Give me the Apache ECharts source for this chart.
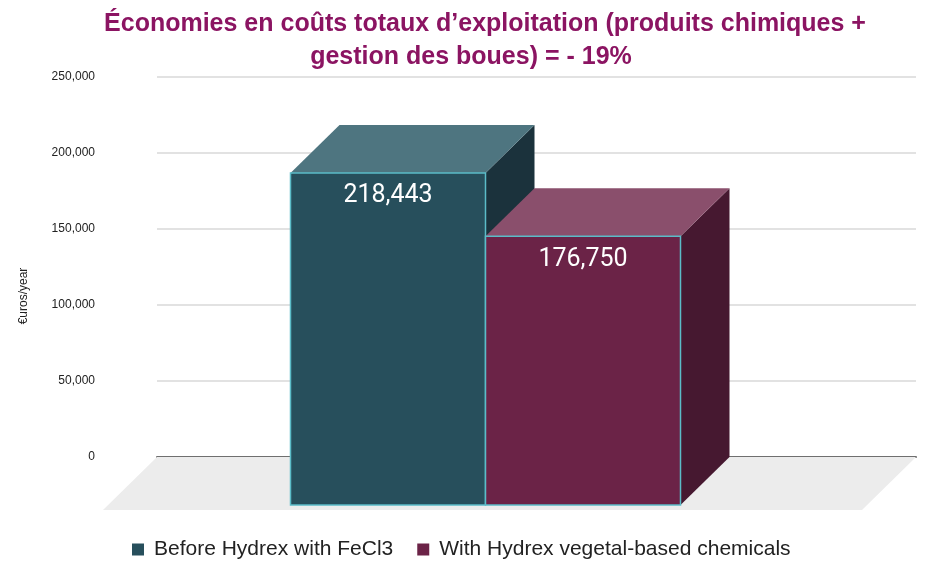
<!DOCTYPE html>
<html>
<head>
<meta charset="utf-8">
<script src="https://cdn.jsdelivr.net/npm/echarts@6/dist/echarts.min.js"></script>
<style>
  html, body { margin: 0; padding: 0; background: #fff; }
  #chart { width: 940px; height: 579px; }
</style>
</head>
<body>
<div id="chart"></div>
<script>
const categories = ['Total']
const seriesNames = ['Before Hydrex with FeCl3', 'With Hydrex vegetal-based chemicals']
const seriesValues = [[218443], [176750]]
const yTicks = [0, 50000, 100000, 150000, 200000, 250000]
const titleLines = [
  'Économies en coûts totaux d’exploitation (produits chimiques +',
  'gestion des boues) = - 19%',
]

// faces of each box: front, top, side
const faceColors = [
  { front: '#274f5c', top: '#4e7580', side: '#1b323c' },
  { front: '#6b2347', top: '#8a4f6c', side: '#461830' },
]
const DEPTH_X = 49
const DEPTH_Y = 48
const BAR_W = 195

const fmt = (v) => v.toLocaleString('en-US')

const renderBox = (idx) => (params, api) => {
  const base = api.coord([api.value(0), 0])
  const top = api.coord([api.value(0), api.value(1)])
  const bl = base[0] + (idx - 1) * BAR_W - 2
  const br = bl + BAR_W
  const bt = top[1]
  const bb = base[1]
  const fl = bl - DEPTH_X
  const fr = br - DEPTH_X
  const ft = bt + DEPTH_Y
  const fb = bb + DEPTH_Y
  const c = faceColors[idx]
  return {
    type: 'group',
    children: [
      {
        type: 'polygon',
        shape: { points: [[fr, ft], [br, bt], [br, bb], [fr, fb]] },
        style: { fill: c.side },
      },
      {
        type: 'polygon',
        shape: { points: [[fl, ft], [fr, ft], [br, bt], [bl, bt]] },
        style: { fill: c.top },
      },
      {
        type: 'rect',
        shape: { x: fl, y: ft, width: BAR_W, height: fb - ft },
        style: { fill: c.front, stroke: '#5bbcc8', lineWidth: 1.5 },
      },
      {
        type: 'text',
        x: (fl + fr) / 2,
        y: ft + 23,
        style: {
          text: fmt(api.value(1)),
          fill: '#fff',
          font: '25px Roboto',
          align: 'center',
          verticalAlign: 'middle',
        },
      },
    ],
  }
}

const renderFloor = (params, api) => {
  const cs = params.coordSys
  const y0 = api.coord([0, 0])[1]
  return {
    type: 'polygon',
    shape: {
      points: [
        [cs.x, y0],
        [cs.x + cs.width, y0],
        [cs.x + cs.width - 54, y0 + 53],
        [cs.x - 54, y0 + 53],
      ],
    },
    style: { fill: '#ececec' },
  }
}

const titleStyle = {
  fontFamily: 'Liberation Sans',
  fontSize: 25,
  fontWeight: 'bold',
  color: '#8b1462',
}

const chart = echarts.init(document.getElementById('chart'))
const option = {
  animation: false,
  title: [
    { text: titleLines[0], left: 480, textAlign: 'center', top: 7, textStyle: titleStyle },
    { text: titleLines[1], left: 466, textAlign: 'center', top: 40, textStyle: titleStyle },
  ],
  legend: {
    bottom: 14,
    left: 127,
    icon: 'rect',
    itemWidth: 12,
    itemHeight: 12,
    itemGap: 24,
    data: seriesNames,
    textStyle: {
      fontFamily: 'Liberation Sans',
      fontSize: 21,
      color: '#222',
      padding: [0, 0, 0, 5],
    },
  },
  grid: { left: 157, right: 24, top: 77, bottom: 122 },
  xAxis: {
    type: 'category',
    data: categories,
    axisLine: { show: true, lineStyle: { color: '#6f6f6f', width: 2 } },
    axisTick: { show: false },
    axisLabel: { show: false },
  },
  yAxis: {
    type: 'value',
    min: yTicks[0],
    max: yTicks[yTicks.length - 1],
    interval: yTicks[1] - yTicks[0],
    axisLine: { show: false },
    axisTick: { show: false },
    axisLabel: {
      margin: 62,
      fontFamily: 'Liberation Sans',
      fontSize: 12,
      color: '#222',
      formatter: (v) => fmt(v),
    },
    splitLine: { lineStyle: { color: '#d9d9d9', width: 1.5 } },
  },
  graphic: [
    {
      type: 'text',
      x: 24,
      y: 296,
      rotation: Math.PI / 2,
      style: {
        text: '€uros/year',
        font: '12px "Liberation Sans"',
        fill: '#222',
        align: 'center',
        verticalAlign: 'middle',
      },
    },
  ],
  series: [
    {
      type: 'custom',
      name: 'floor',
      renderItem: renderFloor,
      data: [[0, 0]],
      z: 1,
      silent: true,
    },
    ...seriesNames.map((name, i) => ({
      type: 'custom',
      name,
      renderItem: renderBox(i),
      itemStyle: { color: faceColors[i].front },
      data: seriesValues[i].map((v, j) => [j, v]),
      encode: { x: 0, y: 1 },
      z: 3 + i,
    })),
  ],
}
chart.setOption(option)
</script>
</body>
</html>
